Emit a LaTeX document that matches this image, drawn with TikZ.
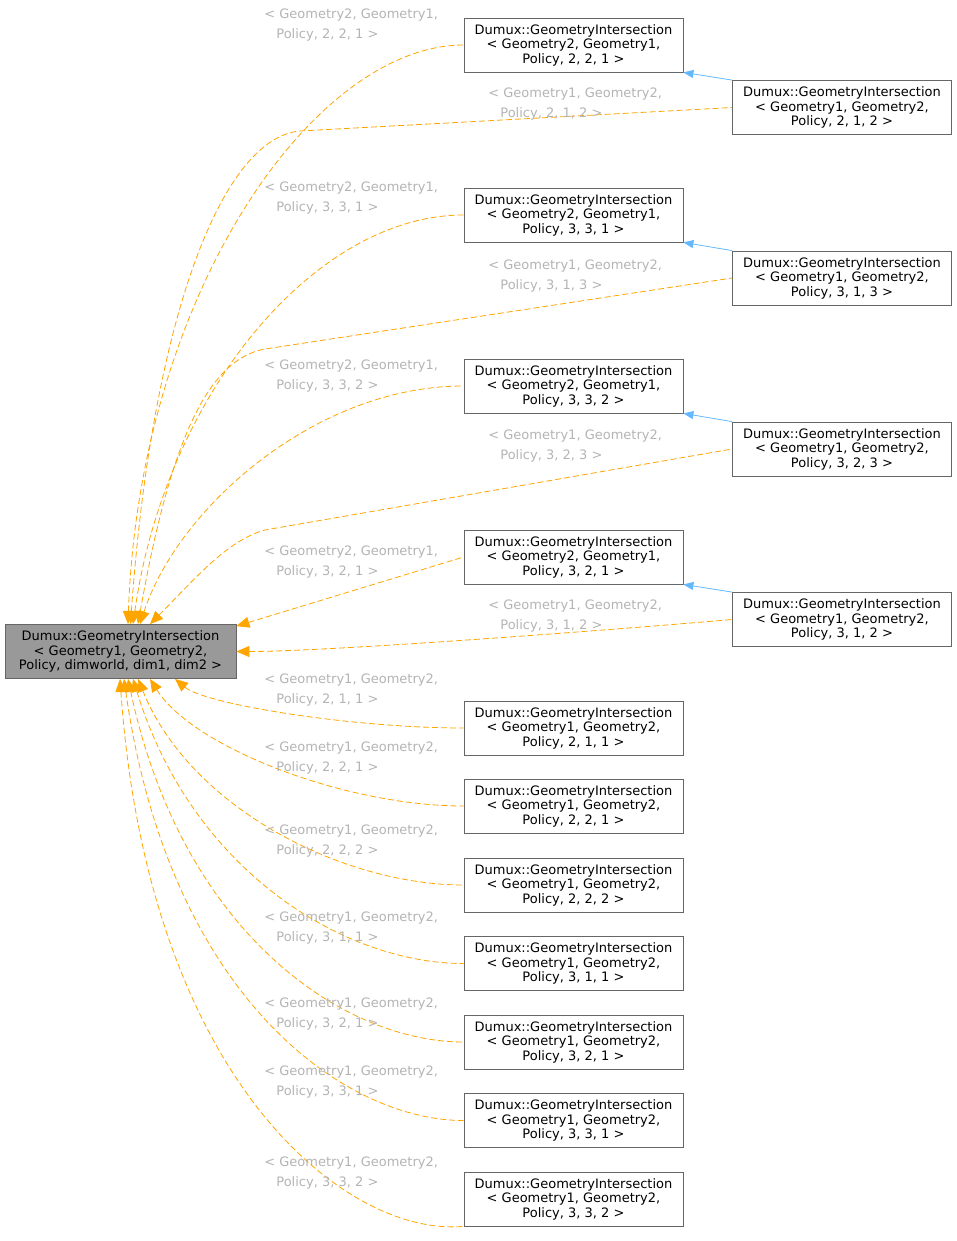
\documentclass[tikz,border=0pt]{standalone}
\usepackage{fontspec}
\setmainfont{DejaVu Sans}
\usetikzlibrary{arrows.meta}
\definecolor{edgeor}{HTML}{FFA500}
\definecolor{edgebl}{HTML}{63B8FF}
\definecolor{lblgray}{HTML}{B4B4B4}
\definecolor{bordergray}{HTML}{666666}
\begin{document}
\begin{tikzpicture}[x=1pt,y=-1pt,line width=0.8pt,
  box/.style={draw=bordergray,fill=white,minimum width=219pt,minimum height=54pt,align=center,inner sep=1pt,
    font=\fontsize{13}{14.5}\selectfont},
  mainbox/.style={box,fill=black!40,minimum width=231pt},
  dep/.style={draw=edgeor,dashed,dash pattern=on 6pt off 3pt,{Triangle[length=13pt,width=11pt]}-},
  inh/.style={draw=edgebl,{Triangle[length=10pt,width=8pt]}-},
  lbl/.style={anchor=north west,align=left,text=lblgray,inner sep=0pt,font=\fontsize{13}{20}\selectfont}]
\useasboundingbox (0,0) rectangle (957,1241);
\node[mainbox] (m) at (120.5,651.5) {Dumux::GeometryIntersection\\< Geometry1, Geometry2,\\ Policy, dimworld, dim1, dim2 >};
\node[box] (a1) at (573.5,45) {Dumux::GeometryIntersection\\< Geometry2, Geometry1,\\ Policy, 2, 2, 1 >};
\node[box] (a2) at (573.5,215) {Dumux::GeometryIntersection\\< Geometry2, Geometry1,\\ Policy, 3, 3, 1 >};
\node[box] (a3) at (573.5,386) {Dumux::GeometryIntersection\\< Geometry2, Geometry1,\\ Policy, 3, 3, 2 >};
\node[box] (a4) at (573.5,557) {Dumux::GeometryIntersection\\< Geometry2, Geometry1,\\ Policy, 3, 2, 1 >};
\node[box] (r1) at (842,107.5) {Dumux::GeometryIntersection\\< Geometry1, Geometry2,\\ Policy, 2, 1, 2 >};
\node[box] (r2) at (842,278) {Dumux::GeometryIntersection\\< Geometry1, Geometry2,\\ Policy, 3, 1, 3 >};
\node[box] (r3) at (842,449) {Dumux::GeometryIntersection\\< Geometry1, Geometry2,\\ Policy, 3, 2, 3 >};
\node[box] (r4) at (842,619.5) {Dumux::GeometryIntersection\\< Geometry1, Geometry2,\\ Policy, 3, 1, 2 >};
\node[box] (b1) at (573.5,728) {Dumux::GeometryIntersection\\< Geometry1, Geometry2,\\ Policy, 2, 1, 1 >};
\node[box] (b2) at (573.5,806) {Dumux::GeometryIntersection\\< Geometry1, Geometry2,\\ Policy, 2, 2, 1 >};
\node[box] (b3) at (573.5,885) {Dumux::GeometryIntersection\\< Geometry1, Geometry2,\\ Policy, 2, 2, 2 >};
\node[box] (b4) at (573.5,963.5) {Dumux::GeometryIntersection\\< Geometry1, Geometry2,\\ Policy, 3, 1, 1 >};
\node[box] (b5) at (573.5,1042) {Dumux::GeometryIntersection\\< Geometry1, Geometry2,\\ Policy, 3, 2, 1 >};
\node[box] (b6) at (573.5,1120.5) {Dumux::GeometryIntersection\\< Geometry1, Geometry2,\\ Policy, 3, 3, 1 >};
\node[box] (b7) at (573.5,1199) {Dumux::GeometryIntersection\\< Geometry1, Geometry2,\\ Policy, 3, 3, 2 >};
% inheritance
\draw[inh] (a1.south east) -- (r1.north west);
\draw[inh] (a2.south east) -- (r2.north west);
\draw[inh] (a3.south east) -- (r3.north west);
\draw[inh] (a4.south east) -- (r4.north west);
% dependency edges
\draw[dep] ([xshift=7.5pt]m.north) to[out=88,in=180,out distance=330pt,in distance=150pt] (a1.west);
\draw[dep] ([xshift=10pt]m.north) to[out=86,in=185,out distance=300pt,in distance=80pt] (300,131) -- (r1.west);
\draw[dep] ([xshift=12.5pt]m.north) to[out=82,in=180,out distance=230pt,in distance=150pt] (a2.west);
\draw[dep] ([xshift=17.5pt]m.north) to[out=80,in=190,out distance=180pt,in distance=60pt] (265,349) -- (r2.west);
\draw[dep] ([xshift=19.5pt]m.north) to[out=72,in=180,out distance=120pt,in distance=150pt] (a3.west);
\draw[dep] ([xshift=29.5pt]m.north) to[out=45,in=195,out distance=60pt,in distance=40pt] (265,530) -- (r3.west);
\draw[dep] ([yshift=-2pt]m.north east) -- (a4.west);
\draw[dep] (m.east) to[out=0,in=185,looseness=0.5] (r4.west);
\draw[dep] ([xshift=54.5pt]m.south) to[out=-40,in=180,out distance=40pt,in distance=110pt] (b1.west);
\draw[dep] ([xshift=29.5pt]m.south) to[out=-58,in=180,out distance=80pt,in distance=120pt] (b2.west);
\draw[dep] ([xshift=17.5pt]m.south) to[out=-68,in=180,out distance=140pt,in distance=120pt] (b3.west);
\draw[dep] ([xshift=12.5pt]m.south) to[out=-73,in=180,out distance=200pt,in distance=120pt] (b4.west);
\draw[dep] ([xshift=7.5pt]m.south) to[out=-78,in=180,out distance=260pt,in distance=120pt] (b5.west);
\draw[dep] ([xshift=3.5pt]m.south) to[out=-82,in=180,out distance=320pt,in distance=120pt] (b6.west);
\draw[dep] ([xshift=-0.5pt]m.south) to[out=-86,in=185,out distance=400pt,in distance=120pt] (b7.south west);
% labels
\node[lbl] (la1) at (264,8) {< Geometry2, Geometry1,\\\hspace*{12pt}Policy, 2, 2, 1 >};
\node[lbl] (lr1) at (488,87) {< Geometry1, Geometry2,\\\hspace*{12pt}Policy, 2, 1, 2 >};
\node[lbl] (la2) at (264,181) {< Geometry2, Geometry1,\\\hspace*{12pt}Policy, 3, 3, 1 >};
\node[lbl] (lr2) at (488,259) {< Geometry1, Geometry2,\\\hspace*{12pt}Policy, 3, 1, 3 >};
\node[lbl] (la3) at (264,359) {< Geometry2, Geometry1,\\\hspace*{12pt}Policy, 3, 3, 2 >};
\node[lbl] (lr3) at (488,429) {< Geometry1, Geometry2,\\\hspace*{12pt}Policy, 3, 2, 3 >};
\node[lbl] (la4) at (264,545) {< Geometry2, Geometry1,\\\hspace*{12pt}Policy, 3, 2, 1 >};
\node[lbl] (lr4) at (488,599) {< Geometry1, Geometry2,\\\hspace*{12pt}Policy, 3, 1, 2 >};
\node[lbl] (lb1) at (264,673) {< Geometry1, Geometry2,\\\hspace*{12pt}Policy, 2, 1, 1 >};
\node[lbl] (lb2) at (264,741) {< Geometry1, Geometry2,\\\hspace*{12pt}Policy, 2, 2, 1 >};
\node[lbl] (lb3) at (264,824) {< Geometry1, Geometry2,\\\hspace*{12pt}Policy, 2, 2, 2 >};
\node[lbl] (lb4) at (264,911) {< Geometry1, Geometry2,\\\hspace*{12pt}Policy, 3, 1, 1 >};
\node[lbl] (lb5) at (264,997) {< Geometry1, Geometry2,\\\hspace*{12pt}Policy, 3, 2, 1 >};
\node[lbl] (lb6) at (264,1065) {< Geometry1, Geometry2,\\\hspace*{12pt}Policy, 3, 3, 1 >};
\node[lbl] (lb7) at (264,1156) {< Geometry1, Geometry2,\\\hspace*{12pt}Policy, 3, 3, 2 >};
\end{tikzpicture}
\end{document}
